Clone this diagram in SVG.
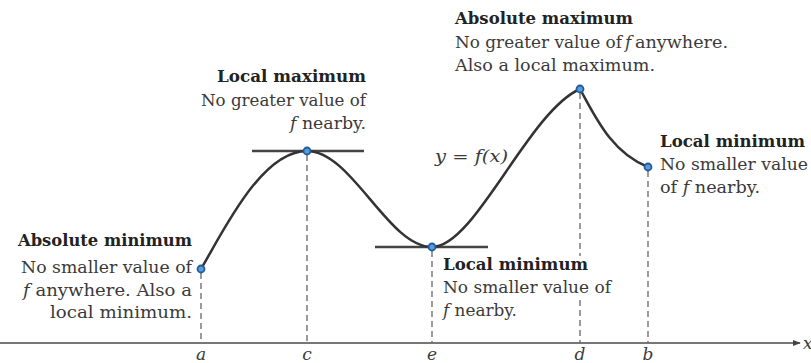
<svg xmlns="http://www.w3.org/2000/svg" width="811" height="363" viewBox="0 0 811 363" font-family="DejaVu Serif, serif">
<defs>
<style>
text{font-family:"DejaVu Serif","Liberation Serif",serif}
.t{font-size:17px;fill:#3a3a3a}
.b{font-weight:bold;fill:#222}
.i{font-style:italic}
.r{text-anchor:end}
.m{text-anchor:middle}
.dash{stroke:#666;stroke-width:1.3;stroke-dasharray:6,4;fill:none}
.tan{stroke:#444;stroke-width:2.5}
.pt{fill:#5a9ad8;stroke:#1d5c9c;stroke-width:1.8}
</style>
<marker id="arr" viewBox="0 0 10 10" refX="9" refY="5" markerWidth="8" markerHeight="8" orient="auto" markerUnits="userSpaceOnUse"><path d="M0,1 L10,5 L0,9 z" fill="#444"/></marker>
</defs>
<g id="axis">
<line x1="0" y1="343" x2="800" y2="343" stroke="#777" stroke-width="2" marker-end="url(#arr)"/>
<text class="t i" x="803" y="349">x</text>
<text class="t i m" x="201" y="360">a</text>
<text class="t i m" x="307" y="360">c</text>
<text class="t i m" x="432" y="360">e</text>
<text class="t i m" x="580" y="360">d</text>
<text class="t i m" x="648" y="360">b</text>
</g>
<g id="connectors">
<line class="dash" x1="201" y1="273" x2="201" y2="343"/>
<line class="dash" x1="307" y1="155" x2="307" y2="343"/>
<line class="dash" x1="432" y1="251" x2="432" y2="343"/>
<path class="dash" d="M580,93 V256 M580,300 V343"/>
<line class="dash" x1="648" y1="171" x2="648" y2="343"/>
<line class="tan" x1="252" y1="151" x2="364" y2="151"/>
<line class="tan" x1="375" y1="247" x2="488" y2="247"/>
<path id="curve" d="M201,269 C225,228 262,151 307,151 C352,151 388,247 432,247 C475,247 528,112 580,89 C596,118 612,153 648,167" fill="none" stroke="#333" stroke-width="2.5"/>
<text class="t i" x="435" y="162" textLength="73" lengthAdjust="spacingAndGlyphs">y = f(x)</text>
</g>
<g id="absmin">
<circle class="pt" cx="201" cy="269" r="3.5"/>
<text class="t b r" x="192" y="246" textLength="174" lengthAdjust="spacingAndGlyphs">Absolute minimum</text>
<text class="t r" x="192" y="273" textLength="171" lengthAdjust="spacingAndGlyphs">No smaller value of</text>
<text class="t r" x="192" y="296" textLength="169" lengthAdjust="spacingAndGlyphs"><tspan class="i">f</tspan> anywhere. Also a</text>
<text class="t r" x="192" y="318" textLength="142" lengthAdjust="spacingAndGlyphs">local minimum.</text>
</g>
<g id="localmax">
<circle class="pt" cx="307" cy="151" r="3.5"/>
<text class="t b r" x="366" y="82" textLength="149" lengthAdjust="spacingAndGlyphs">Local maximum</text>
<text class="t r" x="366" y="106" textLength="165" lengthAdjust="spacingAndGlyphs">No greater value of</text>
<text class="t r" x="366" y="129" textLength="76" lengthAdjust="spacingAndGlyphs"><tspan class="i">f</tspan> nearby.</text>
</g>
<g id="localmin1">
<circle class="pt" cx="432" cy="247" r="3.5"/>
<text class="t b" x="443" y="270" textLength="145" lengthAdjust="spacingAndGlyphs">Local minimum</text>
<text class="t" x="443" y="293" textLength="168" lengthAdjust="spacingAndGlyphs">No smaller value of</text>
<text class="t" x="443" y="316" textLength="74" lengthAdjust="spacingAndGlyphs"><tspan class="i">f</tspan> nearby.</text>
</g>
<g id="absmax">
<circle class="pt" cx="580" cy="89" r="3.5"/>
<text class="t b" x="455" y="24" textLength="178" lengthAdjust="spacingAndGlyphs">Absolute maximum</text>
<text class="t" x="455" y="48" textLength="167" lengthAdjust="spacingAndGlyphs">No greater value of</text>
<text class="t i" x="625" y="48">f</text>
<text class="t" x="635" y="48" textLength="93" lengthAdjust="spacingAndGlyphs">anywhere.</text>
<text class="t" x="455" y="71" textLength="200" lengthAdjust="spacingAndGlyphs">Also a local maximum.</text>
</g>
<g id="localmin2">
<circle class="pt" cx="648" cy="167" r="3.5"/>
<text class="t b" x="660" y="147" textLength="145" lengthAdjust="spacingAndGlyphs">Local minimum</text>
<text class="t" x="660" y="170" textLength="148" lengthAdjust="spacingAndGlyphs">No smaller value</text>
<text class="t" x="660" y="193" textLength="100" lengthAdjust="spacingAndGlyphs">of <tspan class="i">f</tspan> nearby.</text>
</g>
</svg>
